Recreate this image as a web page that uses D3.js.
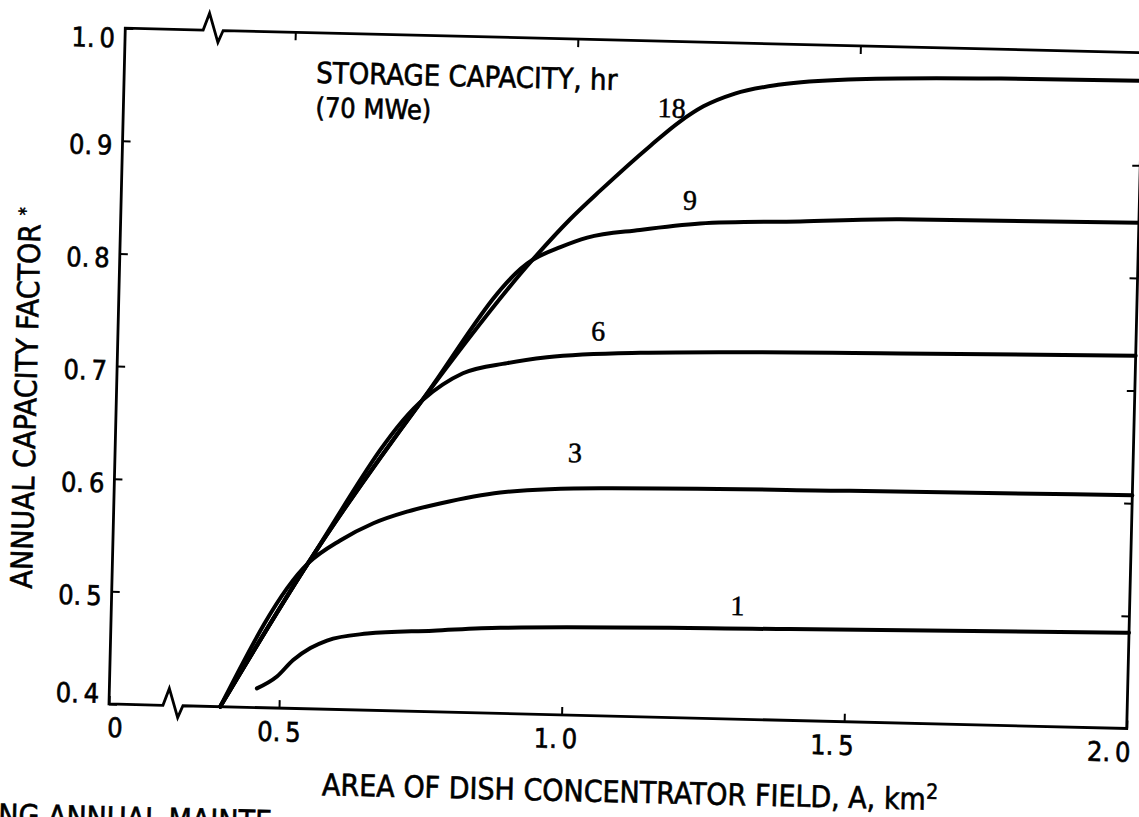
<!DOCTYPE html>
<html>
<head>
<meta charset="utf-8">
<title>Annual capacity factor vs dish field area</title>
<style>
body { margin: 0; background: #fff; }
svg text { font-family: "Liberation Sans Narrow", "DejaVu Sans Condensed", sans-serif; fill: #000; stroke: #000; stroke-width: 0.6px; }
.curve-label { font-family: "Liberation Serif", "DejaVu Serif", serif; font-size: 28px; stroke-width: 0.5px; }
.tick line { stroke: #000; stroke-width: 2px; }
</style>
</head>
<body>
<div id="chart"></div>
<script src="https://cdn.jsdelivr.net/npm/d3@7/dist/d3.min.js"></script>
<script>
// storage capacity, hr (one curve each)
var storageHours = ["18", "9", "6", "3", "1"];

// [area A km2, annual capacity factor]
var cf18 = [[0.396,0.400],[0.545,0.529],[0.737,0.674],[0.929,0.803],[0.994,0.840],[1.046,0.866],
            [1.133,0.907],[1.184,0.929],[1.225,0.943],[1.280,0.955],[1.360,0.964],[1.480,0.970],
            [1.750,0.974],[2.000,0.975]];
var cf9  = [[0.396,0.400],[0.545,0.529],[0.737,0.674],[0.929,0.803],[0.978,0.815],[1.025,0.824],
            [1.118,0.832],[1.224,0.839],[1.401,0.843],[1.577,0.847],[2.000,0.849]];
var cf6  = [[0.396,0.400],[0.545,0.529],[0.742,0.677],[0.811,0.701],[0.889,0.711],[0.959,0.717],
            [1.124,0.723],[1.584,0.728],[2.000,0.731]];
var cf3  = [[0.396,0.400],[0.545,0.529],[0.601,0.550],[0.659,0.566],[0.718,0.577],[0.776,0.585],
            [0.882,0.596],[1.059,0.602],[1.500,0.605],[2.000,0.607]];
var cf1  = [[0.460,0.417],[0.495,0.428],[0.523,0.443],[0.553,0.454],[0.582,0.461],[0.653,0.468],
            [0.769,0.472],[0.888,0.476],[1.400,0.481],[2.000,0.485]];

var xTicks = [0, 0.5, 1.0, 1.5, 2.0];
var yTicks = [0.4, 0.5, 0.6, 0.7, 0.8, 0.9, 1.0];

var series = [cf18, cf9, cf6, cf3, cf1];

// label spots for the curves, in data units
var labelAt = [[1.144,0.9325],[1.193,0.851],[1.036,0.733],[1.000,0.6246],[1.294,0.4923]];

var W = 1018, H = 676;

var svg = d3.select("#chart").append("svg")
    .attr("width", 1139).attr("height", 817);

// the scan is turned a little clockwise, so the whole page is too
var g = svg.append("g")
    .attr("transform", "translate(109,704) rotate(1.38) translate(0," + (-H) + ")");

// x axis has a break between 0 and ~0.3
var x = d3.scaleLinear().domain([0, 0.3, 2.0]).range([0, 57, W]);
var y = d3.scaleLinear().domain([0.4, 1.0]).range([H, 0]);

function fmt(d) { return d === 0 ? "0" : d.toFixed(1).replace(".", ".\u2009"); }

var ax = g.append("g").attr("transform", "translate(0," + H + ")")
    .call(d3.axisBottom(x).tickValues(xTicks).tickSizeInner(-8).tickSizeOuter(0).tickPadding(14).tickFormat(fmt));
// typed labels drift left of their ticks as A grows
ax.selectAll("text").style("font-size", "27px")
    .attr("dx", function (d) { return d === 0 ? 6 : -12 * (d - 0.5); });

var ay = g.append("g")
    .call(d3.axisLeft(y).tickValues(yTicks).tickSizeInner(-8).tickSizeOuter(0).tickPadding(10).tickFormat(fmt));
ay.selectAll("text").style("font-size", "27px")
    .attr("dy", function (d) { return d === 0.4 ? "-0.05em" : d === 1.0 ? "0.7em" : "0.5em"; });

g.append("g")
    .call(d3.axisTop(x).tickValues([0.5, 1.0, 1.5]).tickSizeInner(-8).tickSizeOuter(0).tickFormat(""));
g.append("g").attr("transform", "translate(" + W + ",0)")
    .call(d3.axisRight(y).tickValues([0.5, 0.6, 0.7, 0.8, 0.9]).tickSizeInner(-8).tickSizeOuter(0).tickFormat(""));

g.selectAll(".domain").remove();

// frame with the break marks
var bx = x(0.284), tx = x(0.337);
var zig = [[0,0],[6,-17],[15,12],[20,0]];
var frame = d3.path();
frame.moveTo(0, 0);
frame.lineTo(0, H);
zig.forEach(function (p) { frame.lineTo(bx + p[0], H + p[1]); });
frame.lineTo(W, H);
frame.lineTo(W, 0);
zig.slice().reverse().forEach(function (p) { frame.lineTo(tx + p[0], p[1]); });
frame.closePath();
g.append("path").attr("d", frame.toString())
    .attr("fill", "none").attr("stroke", "#000").attr("stroke-width", 2.8)
    .attr("stroke-linejoin", "miter");

var line = d3.line()
    .x(function (d) { return x(d[0]); })
    .y(function (d) { return y(d[1]); })
    .curve(d3.curveMonotoneX);

g.selectAll(".curve").data(series).enter().append("path")
    .attr("class", "curve")
    .attr("d", line)
    .attr("fill", "none").attr("stroke", "#000").attr("stroke-width", 4)
    .attr("stroke-linecap", "round");

g.selectAll(".curve-label").data(storageHours).enter().append("text")
    .attr("class", "curve-label")
    .attr("x", function (d, i) { return x(labelAt[i][0]); })
    .attr("y", function (d, i) { return y(labelAt[i][1]); })
    .text(function (d) { return d; });

// legend title
g.append("text").attr("x", 192).attr("y", 50).style("font-size", "29px")
    .text("STORAGE CAPACITY, hr");
g.append("text").attr("x", 192).attr("y", 84).style("font-size", "27px")
    .text("(70 MWe)");

// axis titles
var xt = g.append("text").attr("x", 215).attr("y", H + 86).style("font-size", "30px");
xt.append("tspan").text("AREA OF DISH CONCENTRATOR FIELD, A, km");
xt.append("tspan").attr("dy", -11).style("font-size", "21px").text("2");

var yt = g.append("text")
    .attr("transform", "translate(-80," + (H - 304) + ") rotate(-90)")
    .attr("text-anchor", "middle").style("font-size", "30px");
yt.append("tspan").text("ANNUAL CAPACITY FACTOR ");
yt.append("tspan").attr("dy", -9).style("font-size", "18px").text("*");

// caption line cut off by the bottom of the page
g.append("text").attr("x", -108).attr("y", H + 124).style("font-size", "30px")
    .text("NG ANNUAL MAINTE");
</script>
</body>
</html>
